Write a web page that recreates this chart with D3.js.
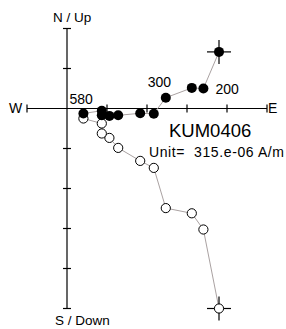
<html>
<head>
  <script src="https://d3js.org/d3.v7.min.js"></script>
  <style>
    body { margin: 0; background: #fff; }
    text { font-family: 'Liberation Sans', Arial, sans-serif; fill: #000; }
  </style>
</head>
<body>
  <svg id="zplot" width="286" height="329"></svg>
  <script>
    // demag steps, east / north (horizontal) and down (vertical), units of 315e-06 A/m
    const east  = [3.80, 3.41, 3.12, 2.47, 2.17, 1.83, 1.28, 1.06, 0.87, 0.87, 0.41];
    const north = [1.415, 0.50, 0.515, 0.27, -0.13, -0.12, -0.17, -0.185, -0.17, -0.055, -0.125];
    const down  = [5.0, 3.025, 2.62, 2.49, 1.485, 1.31, 0.985, 0.735, 0.625, 0.375, 0.25];
    const stepLabels = [null, "200", null, "300", null, null, null, null, null, null, "580"];
    const xTicks = [-1, 1, 2, 3, 4, 5];
    const yTicks = [2, 1, -1, -2, -3, -4, -5];

    const svg = d3.select("svg#zplot");
    const x = d3.scaleLinear().domain([0, 1]).range([67, 107]);
    const y = d3.scaleLinear().domain([0, 1]).range([108.5, 68.5]);

    const axes = svg.append("g").attr("stroke", "#000").attr("stroke-width", 1.2);
    // horizontal axis W-E
    axes.append("line").attr("x1", x(-1)).attr("x2", x(5)).attr("y1", y(0)).attr("y2", y(0));
    axes.selectAll(".xt").data(xTicks).enter().append("line")
      .attr("x1", d => x(d)).attr("x2", d => x(d))
      .attr("y1", y(0) - 4).attr("y2", y(0) + 4);
    // vertical axis N/Up - S/Down
    axes.append("line").attr("x1", x(0)).attr("x2", x(0)).attr("y1", y(2)).attr("y2", y(-5));
    axes.selectAll(".yt").data(yTicks).enter().append("line")
      .attr("x1", x(0) - 4).attr("x2", x(0) + 4)
      .attr("y1", d => y(d)).attr("y2", d => y(d));

    svg.append("text").attr("x", 53).attr("y", 22).attr("font-size", 13.5).text("N / Up");
    svg.append("text").attr("x", 55).attr("y", 325).attr("font-size", 13.5).text("S / Down");
    svg.append("text").attr("x", 9).attr("y", 113).attr("font-size", 14).text("W");
    svg.append("text").attr("x", 268).attr("y", 113).attr("font-size", 14).text("E");

    const idx = d3.range(east.length);
    const pathColor = "#aaa2a2";

    // horizontal projection (filled)
    const hLine = d3.line().x(i => x(east[i])).y(i => y(north[i]));
    svg.append("path").attr("d", hLine(idx)).attr("fill", "none")
      .attr("stroke", pathColor).attr("stroke-width", 1);

    // vertical projection (open)
    const vLine = d3.line().x(i => x(east[i])).y(i => y(-down[i]));
    svg.append("path").attr("d", vLine(idx)).attr("fill", "none")
      .attr("stroke", pathColor).attr("stroke-width", 1);

    // crosses on the first step
    const cross = [[east[0], north[0]], [east[0], -down[0]]];
    svg.selectAll(".cross").data(cross).enter().append("g").each(function(d) {
      const g = d3.select(this).attr("stroke", "#000").attr("stroke-width", 1.2);
      g.append("line").attr("x1", x(d[0]) - 12).attr("x2", x(d[0]) + 12).attr("y1", y(d[1])).attr("y2", y(d[1]));
      g.append("line").attr("x1", x(d[0])).attr("x2", x(d[0])).attr("y1", y(d[1]) - 12).attr("y2", y(d[1]) + 12);
    });

    svg.selectAll(".open").data(idx).enter().append("circle")
      .attr("cx", i => x(east[i])).attr("cy", i => y(-down[i])).attr("r", 4.6)
      .attr("fill", "#fff").attr("stroke", "#000").attr("stroke-width", 1);

    svg.selectAll(".filled").data(idx).enter().append("circle")
      .attr("cx", i => x(east[i])).attr("cy", i => y(north[i])).attr("r", 5)
      .attr("fill", "#000");

    // step labels
    const labelOffset = { "200": [12, 5], "300": [-18, -11], "580": [-14, -10] };
    svg.selectAll(".lab").data(idx.filter(i => stepLabels[i])).enter().append("text")
      .attr("x", i => x(east[i]) + labelOffset[stepLabels[i]][0])
      .attr("y", i => y(north[i]) + labelOffset[stepLabels[i]][1])
      .attr("font-size", 14).text(i => stepLabels[i]);

    svg.append("text").attr("x", 169).attr("y", 137).attr("font-size", 18.5).text("KUM0406");
    svg.append("text").attr("x", 149).attr("y", 157).attr("font-size", 14)
      .attr("xml:space", "preserve")
      .attr("textLength", 135).attr("lengthAdjust", "spacing")
      .text("Unit=  315.e-06 A/m");
  </script>
</body>
</html>
